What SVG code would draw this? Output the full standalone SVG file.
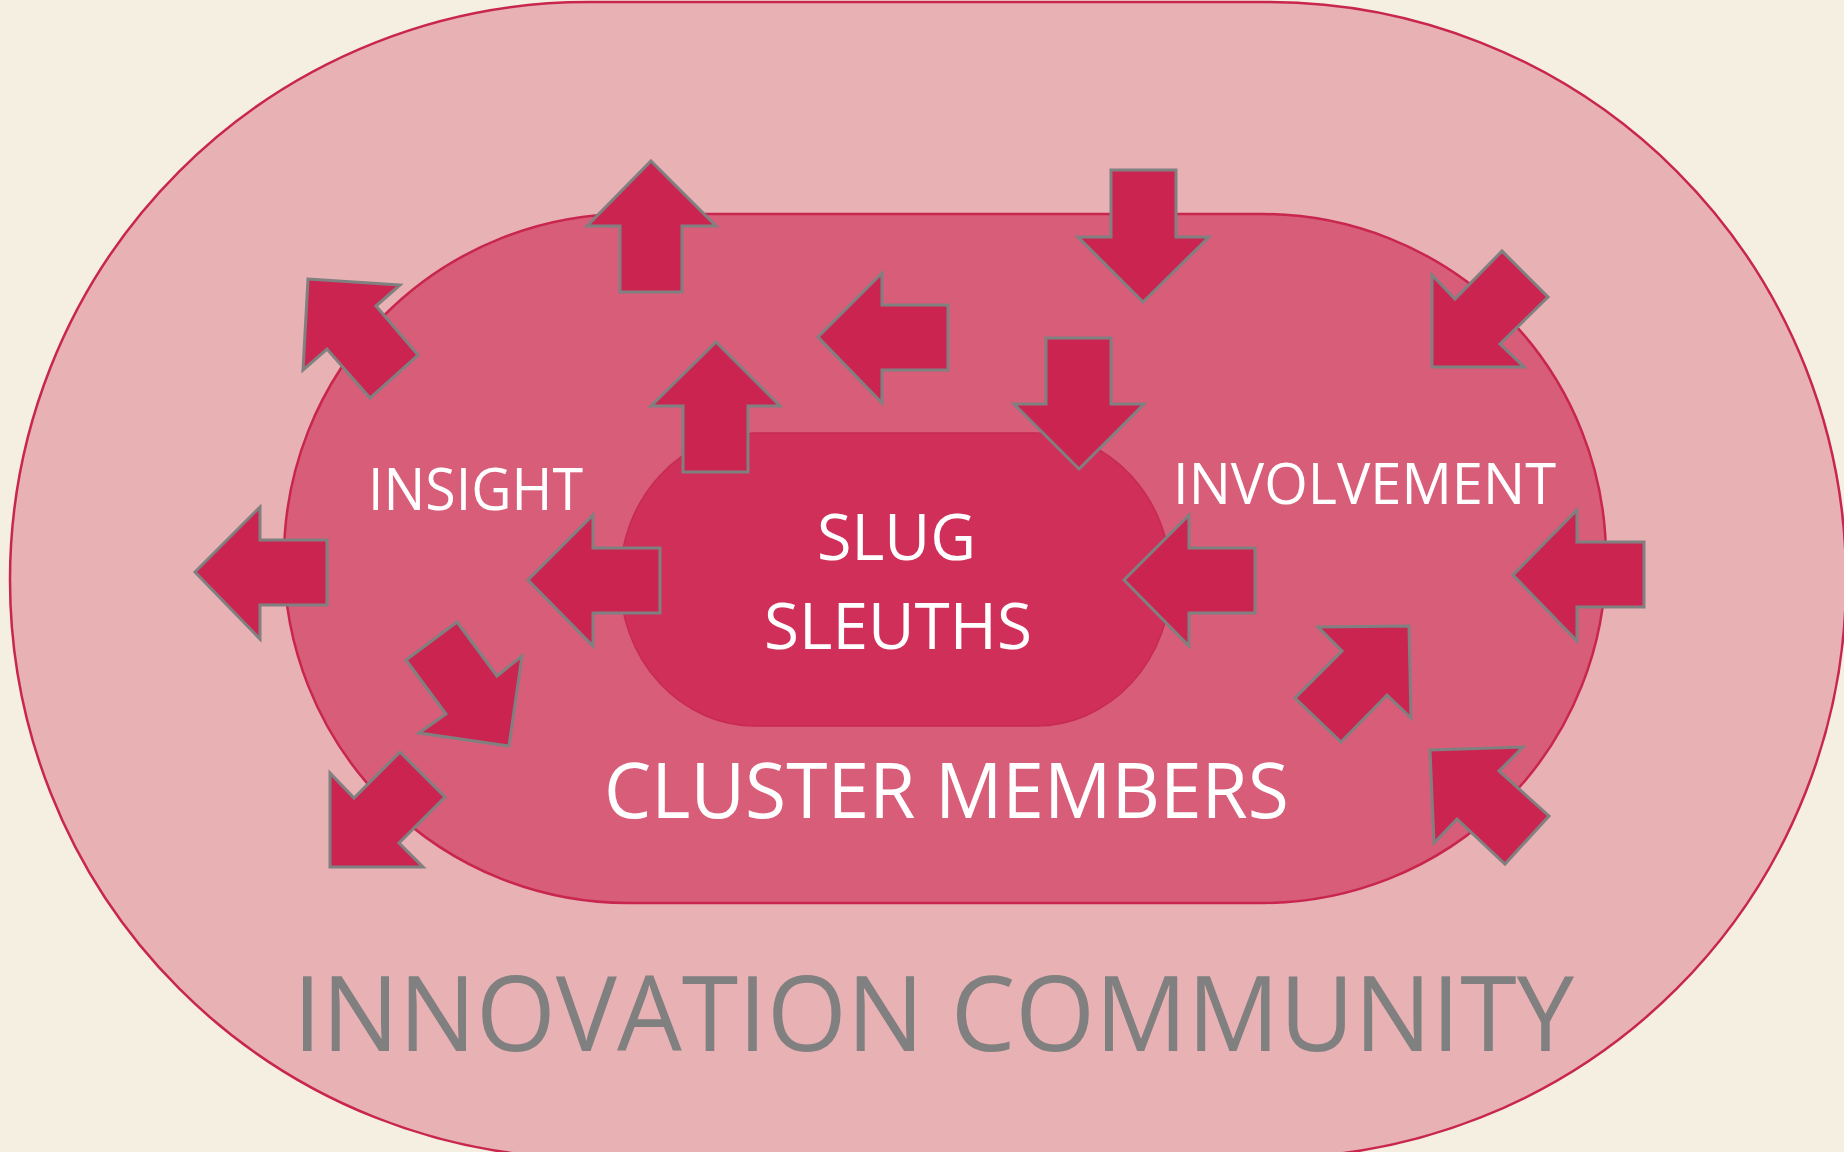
<svg xmlns="http://www.w3.org/2000/svg" width="1844" height="1152" viewBox="0 0 1844 1152">
<style>
.bg{fill:#F5EFE1}
.outer{fill:#E8B1B4;stroke:#C8264F;stroke-width:2.5}
.middle{fill:#D85D79;stroke:#C8264F;stroke-width:2.5}
.inner{fill:#CF2F59;stroke:#C72A52;stroke-width:1.5}
.arr{fill:#CC2451;stroke:#808080;stroke-width:3;stroke-linejoin:miter}
.lbl{font-family:"Open Sans","Noto Sans","Liberation Sans",sans-serif;fill:#FFFFFF}
.lblg{font-family:"Open Sans","Noto Sans","Liberation Sans",sans-serif;fill:#808080}
</style>
<rect class="bg" x="0" y="0" width="1844" height="1152"/>
<g id="innovation-community">
<rect class="outer" x="10" y="2" width="1836" height="1156" rx="578" ry="578"/>
</g>
<g id="cluster-members">
<rect class="middle" x="284" y="214" width="1322" height="689" rx="344" ry="344"/>
</g>
<g id="slug-sleuths">
<rect class="inner" x="620" y="433" width="551" height="293" rx="135" ry="146.5"/>
</g>
<g id="connectors">
<polygon class="arr" points="651,161 716,226 682,226 682,292 620,292 620,226 587,226"/>
<polygon class="arr" points="716,342 780,406 748,406 748,472 683,472 683,406 651,406"/>
<polygon class="arr" points="1111,170 1176,170 1176,237 1209,237 1143,302 1078,237 1111,237"/>
<polygon class="arr" points="1046,338 1111,338 1111,404 1144,404 1079,469 1014,404 1046,404"/>
<polygon class="arr" points="818,337 882,273 882,305 948,305 948,370 882,370 882,403"/>
<polygon class="arr" points="1124,580 1189,515 1189,548 1255,548 1255,613 1189,613 1189,646"/>
<polygon class="arr" points="1513,575 1577,510 1577,542 1644,542 1644,607 1577,607 1577,641"/>
<polygon class="arr" points="195,572 260,507 260,540 327,540 327,605 260,605 260,639"/>
<polygon class="arr" points="528,580 593,515 593,548 660,548 660,613 593,613 593,646"/>
<polygon class="arr" points="308,279 400,285 376,306 418,355 370,398 327,349 303,370"/>
<polygon class="arr" points="1432,367 1432,275 1455,299 1502,251 1548,297 1500,344 1524,367"/>
<polygon class="arr" points="1409,626 1411,718 1387,695 1341,742 1295,698 1342,651 1318,627"/>
<polygon class="arr" points="1430,750 1523,747 1499,771 1549,816 1505,864 1457,819 1434,843"/>
<polygon class="arr" points="457,622 497,676 522,656 509,746 419,733 446,714 406,660"/>
<polygon class="arr" points="330,867 330,773 354,798 400,752 445,797 399,843 423,867"/>
</g>
<g id="labels">
<text class="lbl" x="368" y="510" font-size="59" textLength="215" lengthAdjust="spacingAndGlyphs">INSIGHT</text>
<text class="lbl" x="1173" y="504" font-size="57" textLength="383" lengthAdjust="spacingAndGlyphs">INVOLVEMENT</text>
<text class="lbl" x="817" y="560" font-size="64" textLength="159" lengthAdjust="spacingAndGlyphs">SLUG</text>
<text class="lbl" x="764" y="649" font-size="64" textLength="268" lengthAdjust="spacingAndGlyphs">SLEUTHS</text>
<text class="lbl" x="604" y="818" font-size="76" textLength="685" lengthAdjust="spacingAndGlyphs">CLUSTER MEMBERS</text>
<text class="lblg" x="293" y="1051" font-size="105" textLength="1281" lengthAdjust="spacingAndGlyphs">INNOVATION COMMUNITY</text>
</g>
</svg>
